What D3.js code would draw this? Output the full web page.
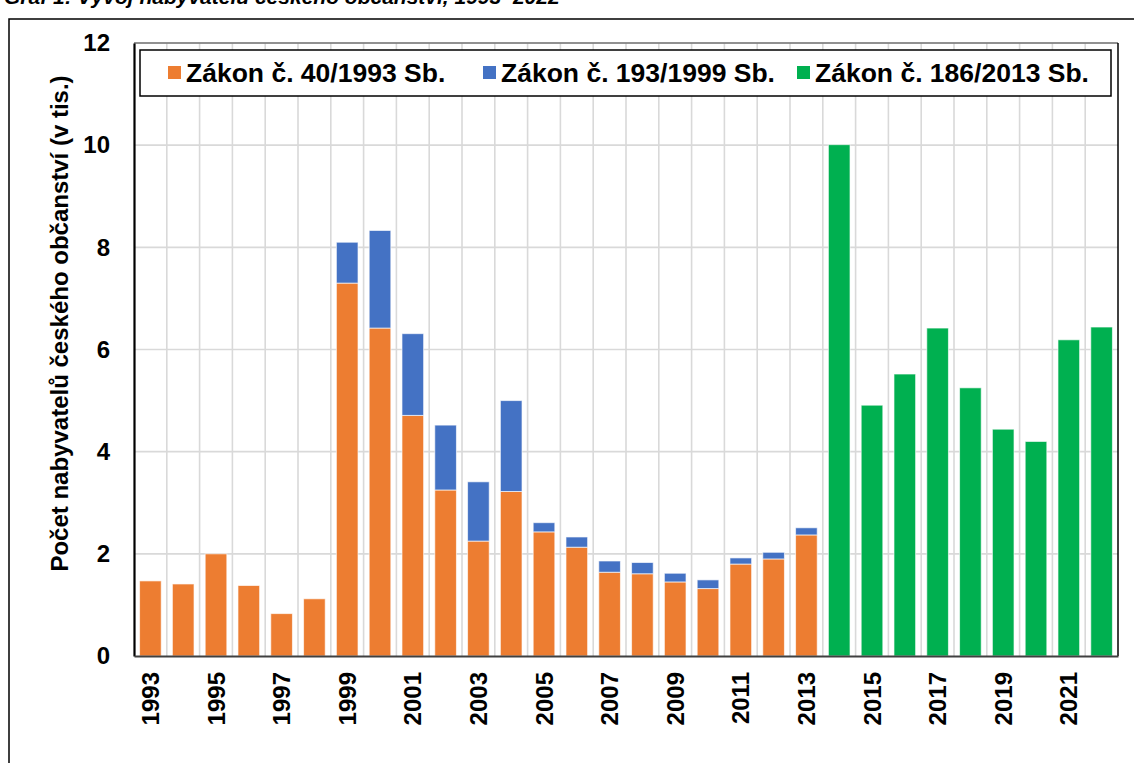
<!DOCTYPE html>
<html>
<head>
<meta charset="utf-8">
<script src="https://cdn.jsdelivr.net/npm/d3@7"></script>
<style>
  html, body { margin: 0; padding: 0; background: #fff; }
  svg { display: block; }
  text { font-family: "Liberation Sans", Arial, sans-serif; }
</style>
</head>
<body>
<svg id="chart" width="1134" height="763"></svg>
<script>
// ---- Data (values in thousands) ----
const years = d3.range(1993, 2023).map(String);
const law1993 = [1.47, 1.41, 2.00, 1.38, 0.83, 1.12, 7.30, 6.42, 4.71, 3.25, 2.25, 3.22, 2.43, 2.13, 1.64, 1.61, 1.45, 1.32, 1.80, 1.90, 2.37,
                 0, 0, 0, 0, 0, 0, 0, 0, 0];
const law1999 = [0, 0, 0, 0, 0, 0, 0.80, 1.91, 1.60, 1.27, 1.16, 1.78, 0.18, 0.20, 0.22, 0.22, 0.17, 0.17, 0.12, 0.13, 0.14,
                 0, 0, 0, 0, 0, 0, 0, 0, 0];
const law2013 = [0, 0, 0, 0, 0, 0, 0, 0, 0, 0, 0, 0, 0, 0, 0, 0, 0, 0, 0, 0, 0,
                 10.01, 4.91, 5.52, 6.42, 5.25, 4.44, 4.20, 6.19, 6.44];
const seriesNames = ["Zákon č. 40/1993 Sb.", "Zákon č. 193/1999 Sb.", "Zákon č. 186/2013 Sb."];
const seriesColors = ["#ED7D31", "#4472C4", "#00B050"];
const yTicks = [0, 2, 4, 6, 8, 10, 12];
const xTickLabels = years.filter((d, i) => i % 2 === 0);
const yTitle = "Počet nabyvatelů českého občanství (v tis.)";
const captionText = "Graf 1: Vývoj nabyvatelů českého občanství, 1993–2022";

// ---- Build table ----
const keys = ["a", "b", "c"];
const table = years.map((y, i) => ({ year: y, a: law1993[i], b: law1999[i], c: law2013[i] }));
const stacked = d3.stack().keys(keys)(table);

const svg = d3.select("#chart");
const plot = { left: 134, right: 1118, top: 43, bottom: 656 };

// caption (partially cut at top, as in the source)
svg.append("text")
  .attr("x", 4).attr("y", 4)
  .attr("font-family", "Liberation Serif, serif")
  .attr("font-style", "italic").attr("font-weight", "bold")
  .attr("font-size", 21).attr("fill", "#000")
  .text(captionText);

// outer frame
svg.append("rect")
  .attr("x", 9).attr("y", 19).attr("width", 1140).attr("height", 800)
  .attr("fill", "none").attr("stroke", "#000").attr("stroke-width", 1.5);

const x = d3.scaleBand().domain(years)
  .range([plot.left, plot.right])
  .paddingInner(0.34).paddingOuter(0.17);
const y = d3.scaleLinear().domain([0, 12]).range([plot.bottom, plot.top]);

// gridlines
const grid = svg.append("g").attr("stroke", "#d9d9d9").attr("stroke-width", 1.6);
grid.selectAll("line.h").data(yTicks.slice(1)).join("line")
  .attr("x1", plot.left).attr("x2", plot.right)
  .attr("y1", d => y(d)).attr("y2", d => y(d));
grid.selectAll("line.v").data(d3.range(1, years.length)).join("line")
  .attr("x1", i => x.range()[0] + i * x.step()).attr("x2", i => x.range()[0] + i * x.step())
  .attr("y1", plot.top).attr("y2", plot.bottom);

// bars
stacked.forEach((s, si) => {
  svg.append("g").attr("fill", seriesColors[si])
    .selectAll("rect").data(s.filter(d => d[1] - d[0] > 0)).join("rect")
    .attr("x", d => x(d.data.year))
    .attr("width", x.bandwidth())
    .attr("y", d => y(d[1]))
    .attr("height", d => y(d[0]) - y(d[1]))
    .attr("stroke", "rgba(255,255,255,0.65)").attr("stroke-width", 1);
});

// plot border
svg.append("line").attr("x1", plot.left).attr("x2", plot.right).attr("y1", plot.top).attr("y2", plot.top)
  .attr("stroke", "#404040").attr("stroke-width", 1.2);
svg.append("line").attr("x1", plot.right).attr("x2", plot.right).attr("y1", plot.top).attr("y2", plot.bottom)
  .attr("stroke", "#000").attr("stroke-width", 1.5);

// axes
const yAxis = svg.append("g").attr("transform", `translate(${plot.left},0)`)
  .call(d3.axisLeft(y).tickValues(yTicks).tickSize(0).tickPadding(24));
yAxis.select(".domain").attr("stroke", "#000").attr("stroke-width", 2.2);
yAxis.selectAll("text").attr("font-size", 24).attr("font-weight", "bold")
  .attr("font-family", "Liberation Sans, Arial, sans-serif").attr("fill", "#000");

const xAxis = svg.append("g").attr("transform", `translate(0,${plot.bottom})`)
  .call(d3.axisBottom(x).tickValues(xTickLabels).tickSize(0).tickPadding(0));
xAxis.select(".domain").attr("stroke", "#404040").attr("stroke-width", 2);
xAxis.selectAll("text")
  .attr("font-size", 24).attr("font-weight", "bold")
  .attr("font-family", "Liberation Sans, Arial, sans-serif").attr("fill", "#000")
  .attr("text-anchor", "end")
  .attr("transform", "rotate(-90)")
  .attr("x", -16).attr("y", 0).attr("dy", "0.36em");

// y title
svg.append("text")
  .attr("transform", `translate(68,${(plot.top + plot.bottom) / 2 - 26}) rotate(-90)`)
  .attr("text-anchor", "middle")
  .attr("font-size", 24).attr("font-weight", "bold").attr("fill", "#000")
  .text(yTitle);

// legend
const lg = svg.append("g");
lg.append("rect").attr("x", 140).attr("y", 50).attr("width", 971).attr("height", 46)
  .attr("fill", "#fff").attr("stroke", "#000").attr("stroke-width", 1.5);
const itemX = [168, 483, 797];
seriesNames.forEach((n, i) => {
  lg.append("rect").attr("x", itemX[i]).attr("y", 66).attr("width", 13).attr("height", 13)
    .attr("fill", seriesColors[i]);
  lg.append("text").attr("x", itemX[i] + 18).attr("y", 82)
    .attr("font-size", 26.5).attr("font-weight", "bold").attr("fill", "#000")
    .text(n);
});
</script>
</body>
</html>
